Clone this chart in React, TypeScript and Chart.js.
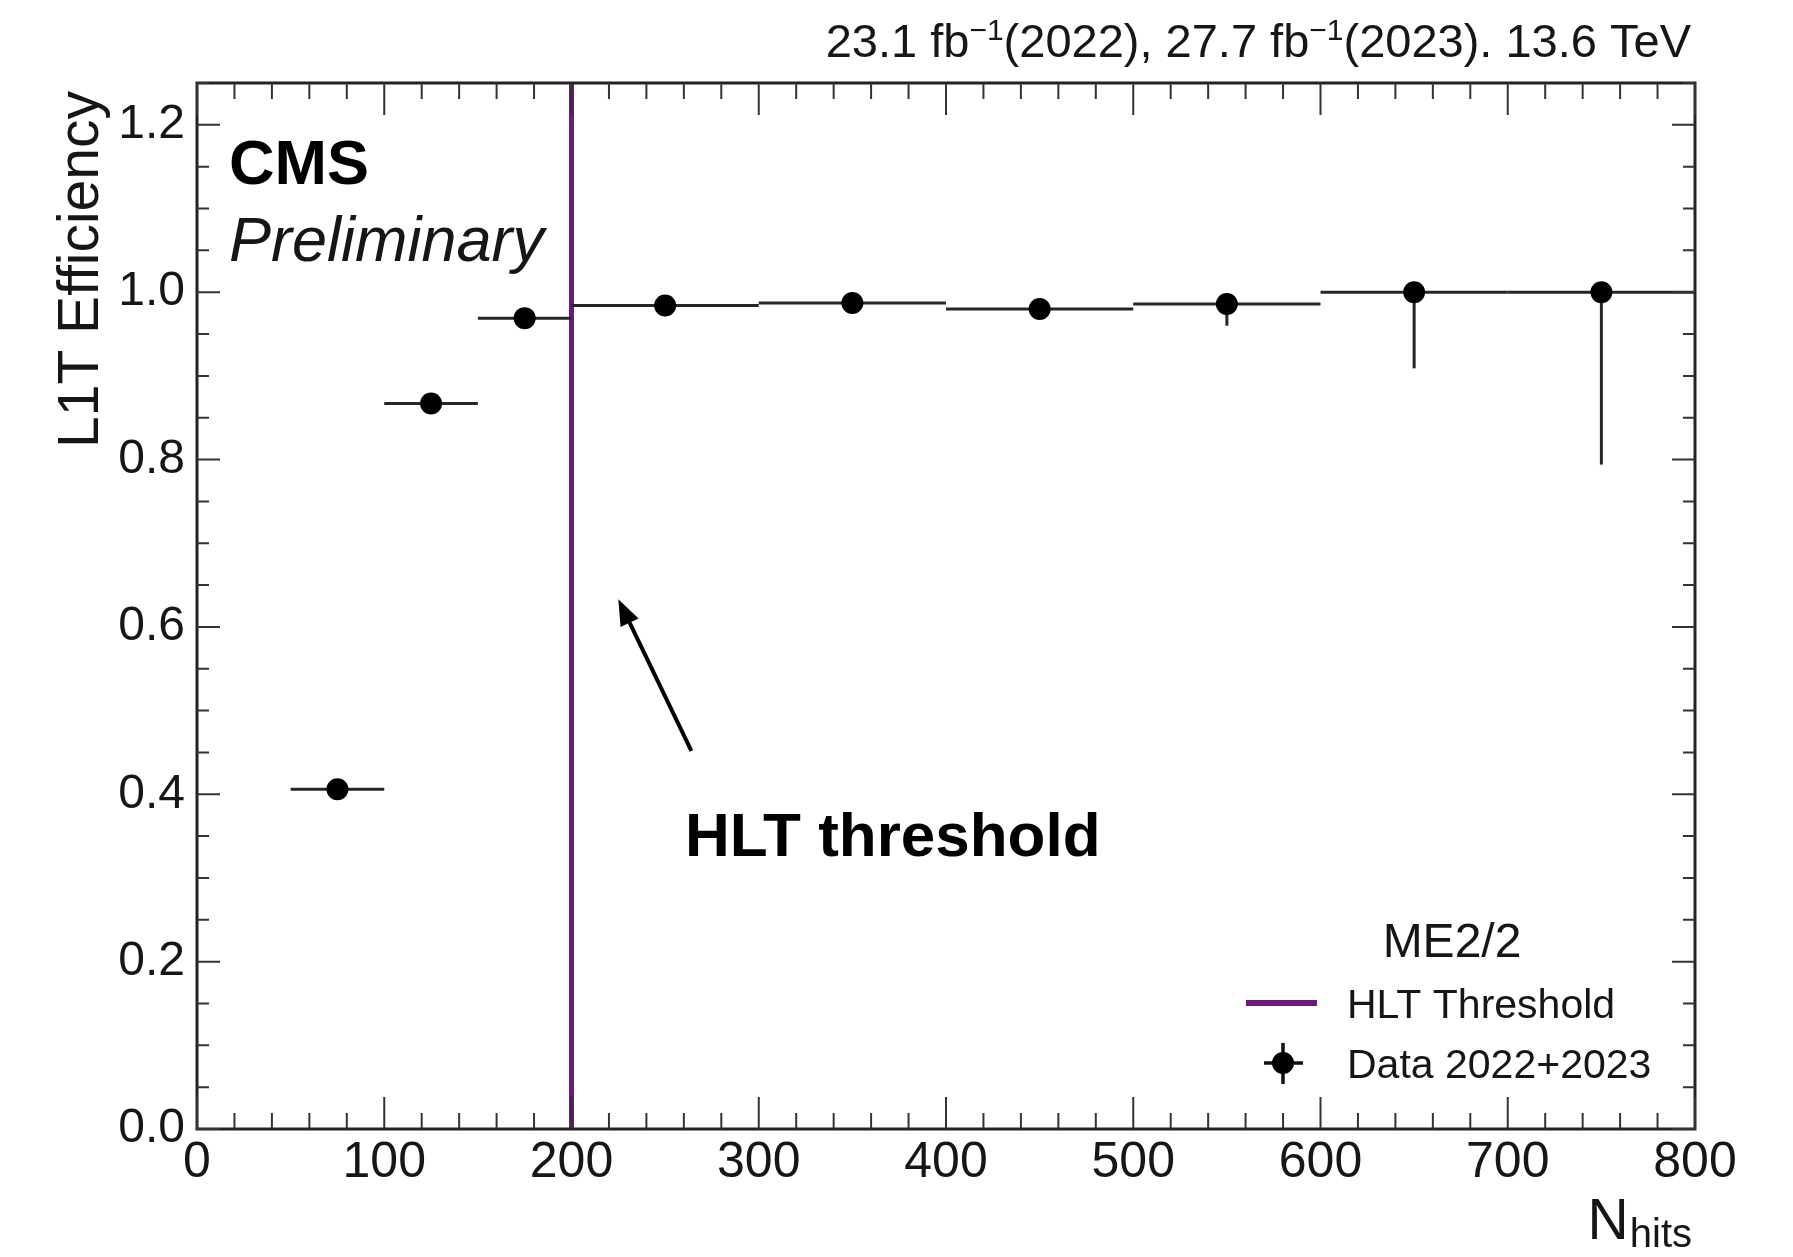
import React, { useEffect, useRef } from 'react';
import { Chart, registerables } from 'chart.js';

Chart.register(...registerables);

// ---- data ----
const binLow = [50, 100, 150, 200, 300, 400, 500, 600, 700];
const binHigh = [100, 150, 200, 300, 400, 500, 600, 700, 800];
const binCenter = [75, 125, 175, 250, 350, 450, 550, 650, 750];
const efficiency = [0.406, 0.867, 0.969, 0.984, 0.987, 0.98, 0.986, 1.0, 1.0];
const errDown = [0.004, 0.004, 0.003, 0.002, 0.002, 0.003, 0.026, 0.091, 0.206];
const errUp = [0.004, 0.004, 0.003, 0.002, 0.002, 0.003, 0.008, 0.0, 0.0];
const hltThreshold = 200;
const xTickValues = [0, 100, 200, 300, 400, 500, 600, 700, 800];
const yTickValues = [0, 0.2, 0.4, 0.6, 0.8, 1.0, 1.2];
const arrowTail = { x: 264, y: 0.452 };
const arrowTip = { x: 225, y: 0.633 };

const FONT = "'Liberation Sans', Arial, Helvetica, sans-serif";
const PURPLE = '#6A1B7A';
const INK = '#161616';

const rootPlugin = {
  id: 'rootStyle',
  beforeDatasetsDraw(chart: any) {
    const { ctx, chartArea: a } = chart;
    const x = chart.scales.x;
    const y = chart.scales.y;
    ctx.save();
    // threshold line
    const px = x.getPixelForValue(hltThreshold);
    ctx.strokeStyle = PURPLE;
    ctx.lineWidth = 5;
    ctx.beginPath();
    ctx.moveTo(px, a.bottom);
    ctx.lineTo(px, a.top);
    ctx.stroke();
    // error bars
    ctx.strokeStyle = '#262626';
    ctx.lineWidth = 3;
    for (let i = 0; i < binCenter.length; i++) {
      const yy = y.getPixelForValue(efficiency[i]);
      ctx.beginPath();
      ctx.moveTo(x.getPixelForValue(binLow[i]), yy);
      ctx.lineTo(x.getPixelForValue(binHigh[i]), yy);
      ctx.stroke();
      const xc = x.getPixelForValue(binCenter[i]);
      ctx.beginPath();
      ctx.moveTo(xc, y.getPixelForValue(efficiency[i] - errDown[i]));
      ctx.lineTo(xc, y.getPixelForValue(efficiency[i] + errUp[i]));
      ctx.stroke();
    }
    ctx.restore();
  },
  afterDraw(chart: any) {
    const { ctx, chartArea: a } = chart;
    const x = chart.scales.x;
    const y = chart.scales.y;
    ctx.save();
    // frame
    ctx.strokeStyle = '#222';
    ctx.lineWidth = 3;
    ctx.strokeRect(a.left, a.top, a.right - a.left, a.bottom - a.top);
    // ticks
    ctx.lineWidth = 2;
    ctx.strokeStyle = '#333';
    for (let i = 0; i <= 40; i++) {
      const v = i * 20;
      const major = i % 5 === 0;
      const len = major ? 32 : 16;
      const p = x.getPixelForValue(v);
      ctx.beginPath();
      ctx.moveTo(p, a.bottom);
      ctx.lineTo(p, a.bottom - len);
      ctx.moveTo(p, a.top);
      ctx.lineTo(p, a.top + len);
      ctx.stroke();
    }
    for (let i = 0; i <= 25; i++) {
      const v = i * 0.05;
      const major = i % 4 === 0;
      const len = major ? 23 : 12;
      const p = y.getPixelForValue(v);
      ctx.beginPath();
      ctx.moveTo(a.left, p);
      ctx.lineTo(a.left + len, p);
      ctx.moveTo(a.right, p);
      ctx.lineTo(a.right - len, p);
      ctx.stroke();
    }

    ctx.fillStyle = INK;
    ctx.textBaseline = 'alphabetic';

    // header (lumi text), right aligned
    const big = `47px ${FONT}`;
    const sup = `30px ${FONT}`;
    const parts: [string, boolean][] = [
      ['23.1 fb', false], ['\u22121', true], ['(2022), 27.7 fb', false], ['\u22121', true], ['(2023). 13.6 TeV', false],
    ];
    let total = 0;
    for (const [t, s] of parts) { ctx.font = s ? sup : big; total += ctx.measureText(t).width; }
    let cx = 1683 - total;
    for (const [t, s] of parts) {
      ctx.font = s ? sup : big;
      ctx.textAlign = 'left';
      ctx.fillText(t, cx, s ? 32 : 49);
      cx += ctx.measureText(t).width;
    }

    // CMS Preliminary
    ctx.textAlign = 'left';
    ctx.fillStyle = '#000';
    ctx.font = `bold 63px ${FONT}`;
    ctx.fillText('CMS', 221, 176);
    ctx.fillStyle = INK;
    ctx.font = `italic 63px ${FONT}`;
    ctx.fillText('Preliminary', 221, 253);

    // y title
    ctx.save();
    ctx.translate(90, 83);
    ctx.rotate(-Math.PI / 2);
    ctx.textAlign = 'right';
    ctx.font = `57px ${FONT}`;
    ctx.fillText('L1T Efficiency', 0, 0);
    ctx.restore();

    // x title N_hits
    ctx.font = `40px ${FONT}`;
    const wSub = ctx.measureText('hits').width;
    ctx.textAlign = 'right';
    ctx.fillText('hits', 1684, 1239);
    ctx.font = `57px ${FONT}`;
    ctx.fillText('N', 1684 - wSub - 1, 1231);

    // arrow annotation
    const tx = x.getPixelForValue(arrowTail.x), ty = y.getPixelForValue(arrowTail.y);
    const hx = x.getPixelForValue(arrowTip.x), hy = y.getPixelForValue(arrowTip.y);
    const ang = Math.atan2(hy - ty, hx - tx);
    const headLen = 26, headW = 10;
    const bx = hx - headLen * Math.cos(ang), by = hy - headLen * Math.sin(ang);
    ctx.strokeStyle = '#000';
    ctx.lineWidth = 4;
    ctx.beginPath();
    ctx.moveTo(tx, ty);
    ctx.lineTo(bx, by);
    ctx.stroke();
    ctx.fillStyle = '#000';
    ctx.beginPath();
    ctx.moveTo(hx, hy);
    ctx.lineTo(bx + headW * Math.sin(ang), by - headW * Math.cos(ang));
    ctx.lineTo(bx - headW * Math.sin(ang), by + headW * Math.cos(ang));
    ctx.closePath();
    ctx.fill();

    ctx.fillStyle = '#000';
    ctx.textAlign = 'left';
    ctx.font = `bold 62px ${FONT}`;
    ctx.fillText('HLT threshold', 677, 848);

    // legend
    ctx.fillStyle = INK;
    ctx.textAlign = 'center';
    ctx.font = `48px ${FONT}`;
    ctx.fillText('ME2/2', 1444, 949);
    ctx.strokeStyle = PURPLE;
    ctx.lineWidth = 6;
    ctx.beginPath();
    ctx.moveTo(1238, 995);
    ctx.lineTo(1309, 995);
    ctx.stroke();
    ctx.textAlign = 'left';
    ctx.font = `41px ${FONT}`;
    ctx.fillText('HLT Threshold', 1339, 1010);
    ctx.fillText('Data 2022+2023', 1339, 1070);
    ctx.strokeStyle = '#111';
    ctx.lineWidth = 3.5;
    ctx.beginPath();
    ctx.moveTo(1256, 1055);
    ctx.lineTo(1295, 1055);
    ctx.moveTo(1275, 1035);
    ctx.lineTo(1275, 1076);
    ctx.stroke();
    ctx.fillStyle = '#000';
    ctx.beginPath();
    ctx.arc(1275, 1055, 11, 0, Math.PI * 2);
    ctx.fill();

    ctx.restore();
  },
};

export default function App() {
  const ref = useRef<HTMLCanvasElement>(null);
  useEffect(() => {
    if (!ref.current) return;
    const chart = new Chart(ref.current, {
      type: 'scatter',
      data: {
        datasets: [
          {
            label: 'Data 2022+2023',
            data: binCenter.map((c, i) => ({ x: c, y: efficiency[i] })),
            pointRadius: 11,
            pointHoverRadius: 11,
            pointBackgroundColor: '#000',
            pointBorderColor: '#000',
            pointBorderWidth: 0,
            showLine: false,
          },
        ],
      },
      options: {
        responsive: false,
        animation: false,
        devicePixelRatio: 1,
        layout: { padding: { top: 75, right: 90, left: 0, bottom: 0 } },
        plugins: { legend: { display: false }, tooltip: { enabled: false } },
        scales: {
          x: {
            type: 'linear',
            min: 0,
            max: 800,
            grid: { display: false, drawTicks: false },
            border: { display: false },
            afterBuildTicks: (s: any) => { s.ticks = xTickValues.map((v) => ({ value: v })); },
            afterFit: (s: any) => { s.height = 120; },
            ticks: {
              padding: 4,
              maxRotation: 0,
              autoSkip: false,
              color: INK,
              font: { family: FONT, size: 50 },
              callback: (v: any) => String(v),
            },
          },
          y: {
            type: 'linear',
            min: 0,
            max: 1.25,
            grid: { display: false, drawTicks: false },
            border: { display: false },
            afterBuildTicks: (s: any) => { s.ticks = yTickValues.map((v) => ({ value: v })); },
            afterFit: (s: any) => { s.width = 189; },
            ticks: {
              padding: 12,
              autoSkip: false,
              color: INK,
              font: { family: FONT, size: 48 },
              callback: (v: any) => Number(v).toFixed(1),
            },
          },
        },
      },
      plugins: [rootPlugin],
    });
    return () => chart.destroy();
  }, []);
  return <canvas ref={ref} width={1777} height={1241} style={{ display: 'block' }} />;
}
